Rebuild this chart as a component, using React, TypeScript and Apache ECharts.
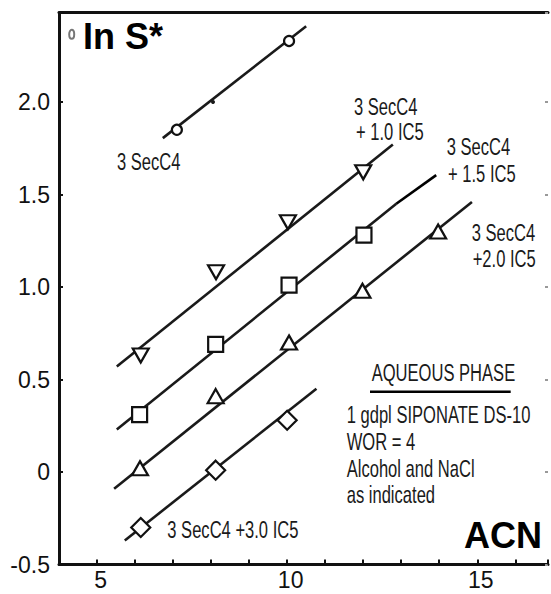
import React, { useEffect, useRef } from "react";
import * as echarts from "echarts";

// ---- data ----
const xTickLabels = [5, 10, 15];
const yTickLabels = [-0.5, 0, 0.5, 1.0, 1.5, 2.0];

// measured points (ACN, ln S*)
const secC4Points = [[7.1, 1.85], [10.05, 2.33]];
const secC4MidDot = [[8.05, 2.0]];
const ic5_10Points = [[6.15, 0.63], [8.13, 1.08], [10.02, 1.35], [12.0, 1.62]];
const ic5_15Points = [[6.12, 0.31], [8.12, 0.69], [10.05, 1.01], [12.02, 1.28]];
const ic5_20Points = [[6.13, 0.02], [8.12, 0.41], [10.05, 0.7], [11.98, 0.98], [13.97, 1.3]];
const ic5_30Points = [[6.15, -0.3], [8.12, 0.01], [10.0, 0.28]];

// fitted straight lines (end points)
const secC4Fit = [[6.73, 1.805], [10.5, 2.41]];
const ic5_10Fit = [[5.52, 0.57], [12.78, 1.77]];
const ic5_15Fit = [[5.52, 0.23], [12.87, 1.45]];
const ic5_20Fit = [[5.45, -0.09], [14.86, 1.46]];
const ic5_30Fit = [[5.73, -0.37], [10.77, 0.45]];
const ic5_15Leader = [[12.87, 1.45], [13.92, 1.605]];

const INK = "#1a1a1a";
const COND = '"Liberation Sans", Arial, sans-serif';

function cText(text: string, x: number, y: number) {
  return {
    type: "text",
    x,
    y,
    scaleX: 0.69,
    z: 100,
    style: {
      text,
      fontSize: 24,
      fontFamily: COND,
      fill: INK,
      align: "left",
      verticalAlign: "middle",
    },
  };
}

export default function App() {
  const ref = useRef<HTMLDivElement>(null);

  useEffect(() => {
    if (!ref.current) return;
    const chart = echarts.init(ref.current, null, { renderer: "svg" });

    const lineSeries = (data: number[][], width = 2.6, color = INK) => ({
      type: "line",
      data,
      symbol: "none",
      z: 2,
      lineStyle: { color, width },
      silent: true,
    });
    const markerSeries = (data: number[][], symbol: string, size: any, rotate = 0) => ({
      type: "scatter",
      data,
      symbol,
      symbolSize: size,
      symbolRotate: rotate,
      z: 5,
      itemStyle: { color: "#ffffff", borderColor: "#111", borderWidth: 2.2, opacity: 1 },
    });

    const option: any = {
      animation: false,
      backgroundColor: "#ffffff",
      grid: { left: 59, right: 2, top: 12.5, bottom: 29.5 },
      xAxis: [
        {
          type: "value",
          min: 4,
          max: 16.86,
          interval: 1,
          splitLine: { show: false },
          axisLine: { show: true, onZero: false, lineStyle: { color: "#111", width: 3 } },
          axisTick: { show: true, inside: true, length: 5, lineStyle: { color: "#111", width: 2 } },
          axisLabel: {
            margin: 4,
            fontSize: 23,
            fontFamily: "Arial, 'Liberation Sans', sans-serif",
            color: "#111",
            padding: [0, 0, 0, 7],
            formatter: (v: number) =>
              xTickLabels.some((t) => Math.abs(t - v) < 1e-6) ? String(v) : "",
          },
        },
        {
          type: "value",
          position: "top",
          min: 4,
          max: 16.86,
          splitLine: { show: false },
          axisLine: { show: true, onZero: false, lineStyle: { color: "#111", width: 3 } },
          axisTick: { show: false },
          axisLabel: { show: false },
        },
      ],
      yAxis: [
        {
          type: "value",
          min: -0.5,
          max: 2.484,
          interval: 0.5,
          splitLine: { show: false },
          axisLine: { show: true, onZero: false, lineStyle: { color: "#111", width: 3 } },
          axisTick: { show: true, inside: true, length: 4, lineStyle: { color: "#111", width: 2 } },
          axisLabel: {
            margin: 9,
            fontSize: 23,
            fontFamily: "Arial, 'Liberation Sans', sans-serif",
            color: "#111",
            formatter: (v: number) => {
              const hit = yTickLabels.find((t) => Math.abs(t - v) < 1e-6);
              if (hit === undefined) return "";
              return hit === 0 ? "0" : hit.toFixed(1);
            },
          },
        },
        {
          type: "value",
          position: "right",
          min: -0.5,
          max: 2.484,
          interval: 0.5,
          splitLine: { show: false },
          axisLine: { show: false, onZero: false },
          axisTick: { show: true, inside: true, length: 3, lineStyle: { color: "#999", width: 2 } },
          axisLabel: { show: false },
        },
      ],
      series: [
        lineSeries(secC4Fit),
        lineSeries(ic5_10Fit),
        lineSeries(ic5_15Fit),
        lineSeries(ic5_20Fit),
        lineSeries(ic5_30Fit),
        lineSeries(ic5_15Leader, 2.6, "#000"),
        markerSeries(secC4Points, "circle", 10),
        {
          type: "scatter",
          data: secC4MidDot,
          symbol: "circle",
          symbolSize: 4,
          z: 5,
          itemStyle: { color: INK, opacity: 1 },
        },
        markerSeries(ic5_10Points, "triangle", [16, 14], 180),
        markerSeries(ic5_15Points, "rect", 15),
        markerSeries(ic5_20Points, "triangle", [16, 14]),
        markerSeries(ic5_30Points, "diamond", 19),
      ],
      graphic: [
        {
          type: "ellipse",
          shape: { cx: 71.7, cy: 34.3, rx: 2.5, ry: 4.5 },
          style: { fill: "#fff", stroke: "#777", lineWidth: 2 },
          z: 100,
        },
        {
          type: "text",
          x: 83,
          y: 36,
          z: 100,
          style: {
            text: "In S*",
            fontSize: 36,
            fontWeight: "bold",
            fontFamily: "Arial, 'Liberation Sans', sans-serif",
            fill: "#000",
            align: "left",
            verticalAlign: "middle",
          },
        },
        {
          type: "text",
          x: 542,
          y: 535.5,
          z: 100,
          style: {
            text: "ACN",
            fontSize: 36,
            fontWeight: "bold",
            fontFamily: "Arial, 'Liberation Sans', sans-serif",
            fill: "#000",
            align: "right",
            verticalAlign: "middle",
          },
        },
        cText("3 SecC4", 117, 161.5),
        cText("3 SecC4", 354, 106),
        cText("+ 1.0 IC5", 356, 131.5),
        cText("3 SecC4", 446.7, 146.7),
        cText("+ 1.5 IC5", 448, 173),
        cText("3 SecC4", 471.7, 232),
        cText("+2.0 IC5", 472.7, 258),
        cText("3 SecC4 +3.0 IC5", 167.3, 529),
        cText("AQUEOUS PHASE", 371.7, 372.5),
        {
          type: "line",
          shape: { x1: 370, y1: 391.7, x2: 510.7, y2: 391.7 },
          style: { stroke: "#000", lineWidth: 2.5 },
          z: 100,
        },
        cText("1 gdpl SIPONATE DS-10", 346.7, 414),
        cText("WOR = 4", 346.7, 441.5),
        cText("Alcohol and NaCl", 346.7, 468.5),
        cText("as indicated", 346.7, 494),
      ],
    };

    chart.setOption(option);
    return () => chart.dispose();
  }, []);

  return (
    <div
      ref={ref}
      style={{ position: "fixed", left: 0, top: 0, width: 551, height: 594, background: "#fff" }}
    />
  );
}
